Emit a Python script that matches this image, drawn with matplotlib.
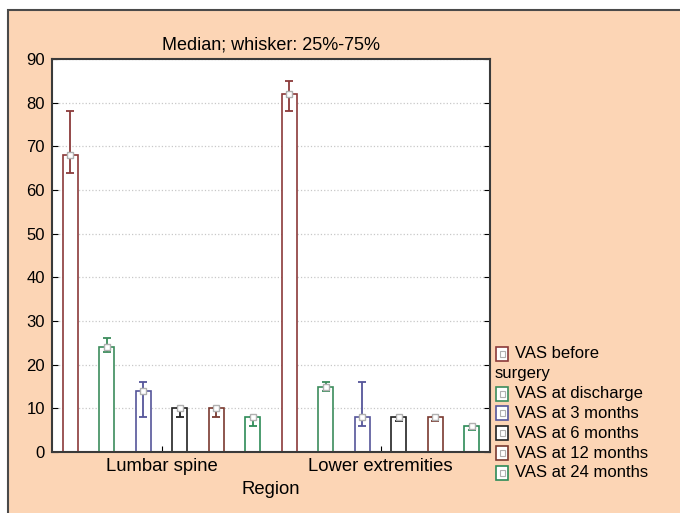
import matplotlib
matplotlib.use("Agg")
import matplotlib.pyplot as plt
from matplotlib.patches import Rectangle
import numpy as np

plt.rcParams['font.family'] = ['Liberation Sans', 'DejaVu Sans']

regions = ["Lumbar spine", "Lower extremities"]
series = ["VAS before surgery", "VAS at discharge", "VAS at 3 months",
          "VAS at 6 months", "VAS at 12 months", "VAS at 24 months"]
legend_lines = [["VAS before", "surgery"], ["VAS at discharge"], ["VAS at 3 months"],
                ["VAS at 6 months"], ["VAS at 12 months"], ["VAS at 24 months"]]
# medians, 25th, 75th per series: [Lumbar spine, Lower extremities]
median = [[68, 82], [24, 15], [14, 8], [10, 8], [10, 8], [8, 6]]
q25 = [[64, 78], [23, 14], [8, 6], [8, 7], [8, 7], [6, 5]]
q75 = [[78, 85], [26, 16], [16, 16], [10, 8], [10, 8], [8, 6]]
colors = ["#8B3A3A", "#3C8C5C", "#55559A", "#222222", "#7A3A30", "#2E8B57"]

W, H = 680, 513
peach = "#FCD5B5"
fig = plt.figure(figsize=(W / 100, H / 100), dpi=100)
fig.patch.set_facecolor("white")
bg = Rectangle((8 / W, -0.1), 1.2, 1.1 - 10 / H, transform=fig.transFigure,
               facecolor=peach, edgecolor="#4a4a4a", lw=1.5, zorder=-10)
fig.add_artist(bg)

ax = fig.add_axes([52 / W, (H - 452) / H, 438 / W, (452 - 59) / H])
ax.set_zorder(1)
ax.set_facecolor("white")
nser = len(series)
for r in range(len(regions)):
    for s in range(nser):
        x = r * nser + s + 0.5
        m = median[s][r]
        ax.bar(x, m, width=0.42, facecolor="white", edgecolor=colors[s], lw=1.2, zorder=2)
        ax.errorbar(x, m, yerr=[[m - q25[s][r]], [q75[s][r] - m]], fmt="none",
                    ecolor=colors[s], capsize=3, elinewidth=1.3, capthick=1.3, zorder=3)
        ax.plot(x, m, "s", mfc="white", mec="#b0b0b0", ms=5, mew=1, zorder=4)

ax.set_xlim(0, len(regions) * nser)
ax.set_ylim(0, 90)
ax.set_yticks(np.arange(0, 91, 10))
ax.set_xticks([nser * r + nser / 2 for r in range(len(regions))])
ax.set_xticklabels(regions, fontsize=13.3)
ax.tick_params(axis="y", direction="in", length=4, right=True, labelsize=12, pad=5)
ax.tick_params(axis="x", direction="in", length=4, pad=4)
ax.yaxis.grid(True, linestyle=":", color="#c8c8c8", lw=0.9)
ax.set_axisbelow(True)
for sp in ax.spines.values():
    sp.set_color("#3a3a3a")
    sp.set_linewidth(1.5)
ax.set_title("Median; whisker: 25%-75%", fontsize=13, pad=7)
ax.set_xlabel("Region", fontsize=13.3, labelpad=5)

# legend
lx = 496
y = 354
row = 19.8
for s in range(nser):
    lines = legend_lines[s]
    fig.add_artist(Rectangle((lx / W, 1 - (y + 7) / H), 12 / W, 14 / H, transform=fig.transFigure,
                             facecolor="white", edgecolor=colors[s], lw=1.2, zorder=5))
    fig.add_artist(Rectangle(((lx + 3.5) / W, 1 - (y + 3) / H), 5 / W, 6 / H,
                             transform=fig.transFigure, facecolor="white",
                             edgecolor="#b0b0b0", lw=0.8, zorder=6))
    fig.text((lx + 19) / W, 1 - y / H, lines[0], fontsize=12, va="center", ha="left")
    y += row
    for extra in lines[1:]:
        fig.text((lx - 1) / W, 1 - y / H, extra, fontsize=12, va="center", ha="left")
        y += row

fig.savefig("out.png", dpi=100, facecolor=fig.get_facecolor())
